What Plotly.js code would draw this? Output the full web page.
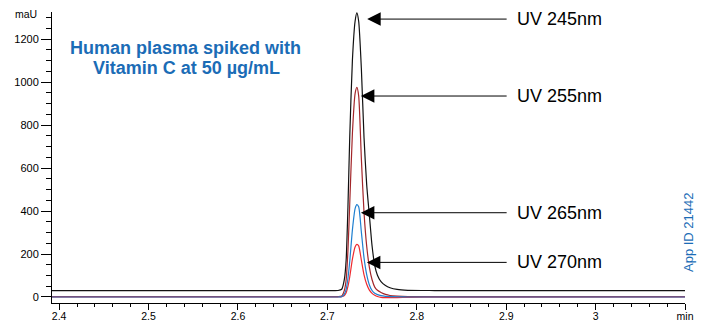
<!DOCTYPE html>
<html>
<head>
<meta charset="utf-8">
<script src="https://cdn.plot.ly/plotly-3.0.1.min.js"></script>
<style>html,body{margin:0;padding:0;background:#fff;}#chart{width:707px;height:324px;}</style>
</head>
<body>
<div id="chart"></div>
<script>
// retention time (min)
const time = [2.392, 2.700, 2.712, 2.716, 2.719, 2.721, 2.723, 2.725, 2.728, 2.731, 2.733, 2.735, 2.738, 2.741, 2.744, 2.747, 2.750, 2.753, 2.756, 2.760, 2.765, 2.770, 2.778, 2.790, 2.820, 3.100];
// absorbance (mAU)
const uv245 = [30, 30, 30, 36, 82, 172, 418, 741, 1102, 1283, 1322, 1283, 1064, 741, 521, 379, 237, 146, 101, 71, 53, 43, 35, 31, 30, 30];
const uv255 = [2, 2, 2, 5, 31, 80, 216, 431, 762, 946, 975, 936, 645, 392, 236, 138, 80, 46, 31, 21, 12, 7, 4, 2, 2, 2];
const uv265 = [0, 0, 0, 1, 13, 35, 87, 165, 312, 411, 430, 420, 303, 182, 104, 56, 30, 17, 11, 6, 3, 2, 1, 0, 0, 0];
const uv270 = [0, 0, 0, 1, 7, 20, 49, 93, 176, 233, 245, 238, 172, 103, 59, 32, 17, 8, 2, -2, -3, -3, -3, -2, -1, 0];

const labels = ['UV 245nm', 'UV 255nm', 'UV 265nm', 'UV 270nm'];
const arrowTipX = [2.7445, 2.7375, 2.7375, 2.7442];
const arrowY = [1293, 935, 392, 161];
const arrowTailX = 2.9022;
const labelX = 2.9101;

const xTickVals = [2.4, 2.5, 2.6, 2.7, 2.8, 2.9, 3.0, 3.1];
const xTickText = ['2.4', '2.5', '2.6', '2.7', '2.8', '2.9', '3', 'min'];
const yTickVals = [0, 200, 400, 600, 800, 1000, 1200];

const FONT = 'Liberation Sans, Arial, Helvetica, sans-serif';
const BLUE = '#1b6cb6';

function tr(y, color) {
  return {x: time, y: y, type: 'scatter', mode: 'lines',
          line: {color: color, width: 1.2, shape: 'spline', smoothing: 0.6},
          hoverinfo: 'skip'};
}
const data = [tr(uv245, '#111111'), tr(uv255, '#a3262a'), tr(uv270, '#ee2a2f'), tr(uv265, '#1e7fd0')];

const annotations = [];
for (let i = 0; i < labels.length; i++) {
  annotations.push({x: arrowTipX[i], y: arrowY[i], xref: 'x', yref: 'y',
    ax: arrowTailX, ay: arrowY[i], axref: 'x', ayref: 'y', text: '',
    showarrow: true, arrowhead: 2, arrowsize: 2.7, arrowwidth: 1, arrowcolor: '#000', standoff: 0});
  annotations.push({x: labelX, y: arrowY[i], xref: 'x', yref: 'y', text: labels[i],
    showarrow: false, xanchor: 'left', yanchor: 'middle', font: {family: FONT, size: 18, color: '#000'}});
}
annotations.push({x: (185.5 - 52) / 633, y: (303 - 48) / 291, xref: 'paper', yref: 'paper',
  text: '<b>Human plasma spiked with</b>', showarrow: false, xanchor: 'center', yanchor: 'middle',
  font: {family: FONT, size: 18, color: BLUE}});
annotations.push({x: (186 - 52) / 633, y: (303 - 68) / 291, xref: 'paper', yref: 'paper',
  text: '<b>Vitamin C at 50 µg/mL</b>', showarrow: false, xanchor: 'center', yanchor: 'middle',
  font: {family: FONT, size: 18, color: BLUE}});
annotations.push({x: (26 - 52) / 633, y: (303 - 14) / 291, xref: 'paper', yref: 'paper',
  text: 'maU', showarrow: false, xanchor: 'center', yanchor: 'middle',
  font: {family: FONT, size: 10.5, color: '#000'}});
annotations.push({x: (688 - 52) / 633, y: (303 - 232) / 291, xref: 'paper', yref: 'paper',
  text: 'App ID 21442', textangle: -90, showarrow: false, xanchor: 'center', yanchor: 'middle',
  font: {family: FONT, size: 13, color: BLUE}});

const layout = {
  width: 707, height: 324,
  margin: {l: 52, r: 22, t: 12, b: 21, pad: 0},
  paper_bgcolor: '#fff', plot_bgcolor: '#fff',
  showlegend: false,
  font: {family: FONT, size: 11, color: '#000'},
  xaxis: {range: [2.392, 3.1], showgrid: false, zeroline: false, showline: true,
    linecolor: '#000', linewidth: 1, ticks: 'outside', ticklen: 6, tickwidth: 1, tickcolor: '#000',
    tickmode: 'array', tickvals: xTickVals, ticktext: xTickText, ticklabelstandoff: -3,
    tickfont: {family: FONT, size: 10.5, color: '#000'},
    minor: {tickmode: 'linear', tick0: 2.4, dtick: 0.02, ticks: 'outside', ticklen: 3, tickwidth: 1, tickcolor: '#000', showgrid: false}},
  yaxis: {range: [-28, 1326], showgrid: false, zeroline: false, showline: true,
    linecolor: '#000', linewidth: 1, ticks: 'outside', ticklen: 10, tickwidth: 1, tickcolor: '#000',
    tickmode: 'array', tickvals: yTickVals,
    tickfont: {family: FONT, size: 11, color: '#000'},
    minor: {tickmode: 'linear', tick0: 0, dtick: 50, ticks: 'outside', ticklen: 5, tickwidth: 1, tickcolor: '#000', showgrid: false}},
  annotations: annotations
};

Plotly.newPlot('chart', data, layout, {displayModeBar: false, staticPlot: true});
</script>
</body>
</html>
